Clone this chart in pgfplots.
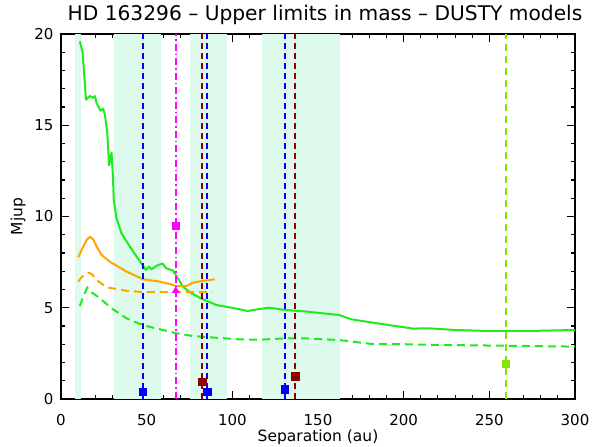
\documentclass[border=0pt]{standalone}
\usepackage{fontspec}
\setmainfont{DejaVu Sans}
\usepackage{pgfplots}
\pgfplotsset{compat=1.18}
\definecolor{cgreen}{RGB}{30,235,30}
\definecolor{cygreen}{RGB}{130,230,0}
\definecolor{cmaroon}{RGB}{139,0,0}
\definecolor{cblue}{RGB}{0,0,255}
\definecolor{cmag}{RGB}{255,0,255}
\definecolor{corange}{RGB}{255,165,0}
\definecolor{band}{RGB}{222,250,236}
\begin{document}
\begin{tikzpicture}
\begin{axis}[
 at={(0,0)}, anchor=south west,
 width=514pt, height=365pt, scale only axis,
 xmin=0, xmax=300, ymin=0, ymax=20,
 xtick={0,50,...,300}, ytick={0,5,...,20},
 minor x tick num=4, minor y tick num=4,
 tick align=inside,
 major tick length=8pt, minor tick length=4pt,
 axis line style={line width=1.4pt},
 every tick/.style={black, line width=1.1pt},
 /pgf/number format/assume math mode=true,
 ticklabel style={font=\fontsize{15}{18}\selectfont},
 xticklabel style={anchor=center, yshift=-21pt},
 yticklabel style={anchor=east, xshift=-4pt},
 title={HD 163296 -- Upper limits in mass -- DUSTY models},
 title style={at={(axis description cs:0.5,1)}, anchor=base, yshift=7pt, xshift=7pt, font=\fontsize{20.2}{23}\selectfont},
 xlabel={Separation (au)},
 xlabel style={at={(axis description cs:0.5,0)}, anchor=center, yshift=-38pt, font=\fontsize{15.5}{18}\selectfont},
 ylabel={Mjup},
 ylabel style={at={(axis description cs:-0.0837,0.5)}, anchor=center, font=\fontsize{15.5}{18}\selectfont},
 clip=true,
]
% shaded bands
\addplot[fill=band, draw=none] coordinates {(8.2,20)(11.5,20)} \closedcycle;
\addplot[fill=band, draw=none] coordinates {(31,20)(58.2,20)} \closedcycle;
\addplot[fill=band, draw=none] coordinates {(75.1,20)(97.1,20)} \closedcycle;
\addplot[fill=band, draw=none] coordinates {(117.2,20)(163,20)} \closedcycle;
% green solid
\addplot[cgreen, line width=2pt, line join=round] coordinates {
(11,19.6) (12.6,19.0) (14.6,16.4) (16.9,16.6) (18.8,16.5) (19.8,16.6) (20.8,16.2) (23.1,15.8) (24.6,15.9) (25.6,15.6) (27,14.6) (28.1,12.8) (29.5,13.5) (30.3,12.2) (30.8,10.9) (32.4,9.9) (35.3,9.08) (40.2,8.35) (44.1,7.8) (47.6,7.34) (49.5,7.07) (51.4,7.25) (52.8,7.1) (55.7,7.29) (59.2,7.43) (61.5,7.16) (65.4,7.03) (68.3,6.61) (71.2,6.15) (76.1,5.79) (82.9,5.46) (90.7,5.15) (98.4,5.02) (104.2,4.92) (109,4.82) (115,4.92) (121.7,5.0) (130.5,4.88) (143.1,4.79) (162.5,4.6) (169.3,4.37) (178,4.24) (191.6,4.05) (205.2,3.86) (214.9,3.87) (230.5,3.78) (247.9,3.73) (275,3.73) (298.4,3.78) (300,3.78)};
% green dashed
\addplot[cgreen, line width=2pt, dash pattern=on 8pt off 5pt] coordinates {
(11,5.1) (13,5.6) (15.3,6.1) (17.3,5.88) (22.7,5.52) (29.5,4.97) (38.3,4.42) (47.6,4.05) (57.7,3.82) (67.4,3.6) (77,3.45) (86.8,3.38) (96.5,3.32) (104.2,3.27) (116,3.25) (130.5,3.32) (143,3.32) (162.5,3.23) (181.9,3.01) (201.3,3.0) (220.7,2.96) (259.6,2.92) (300,2.87)};
% orange solid
\addplot[corange, line width=2pt, line join=round] coordinates {
(10.1,7.76) (12,8.16) (14.9,8.71) (16.9,8.89) (18.8,8.75) (20.8,8.35) (23.7,7.89) (28.5,7.52) (38.3,6.98) (47.9,6.56) (57.7,6.43) (63.5,6.3) (67.4,6.19) (73.2,6.19) (77,6.37) (82.9,6.48) (86,6.5) (89.7,6.56)};
% orange dashed
\addplot[corange, line width=2pt, dash pattern=on 8pt off 5pt] coordinates {
(10.1,6.43) (12,6.67) (15.9,6.92) (17.9,6.85) (20.8,6.52) (26.6,6.12) (38.3,5.93) (47.9,5.86) (57.7,5.85) (67.4,5.88) (77,5.86) (88.3,5.85)};
% vertical lines
\addplot[cblue, line width=2pt, dash pattern=on 6pt off 4pt] coordinates {(47.6,0)(47.6,20)};
\addplot[cmag, line width=2pt, dash pattern=on 7pt off 3pt on 1.5pt off 3pt] coordinates {(67,0)(67,20)};
\addplot[cmaroon, line width=2pt, dash pattern=on 6pt off 4pt] coordinates {(82.5,0)(82.5,20)};
\addplot[cblue, line width=2pt, dash pattern=on 6pt off 4pt] coordinates {(85.4,0)(85.4,20)};
\addplot[cblue, line width=2pt, dash pattern=on 6pt off 4pt] coordinates {(130.5,0)(130.5,20)};
\addplot[cmaroon, line width=2pt, dash pattern=on 6pt off 4pt] coordinates {(136.7,0)(136.7,20)};
\addplot[cygreen, line width=2pt, dash pattern=on 7pt off 5pt] coordinates {(259.6,0)(259.6,20)};
% markers
\addplot[only marks, mark=square*, mark size=3.7pt, cblue] coordinates {(47.6,0.4)(85.4,0.4)(130.5,0.53)};
\addplot[only marks, mark=square*, mark size=3.7pt, cmaroon] coordinates {(82.5,0.95)(136.7,1.26)};
\addplot[only marks, mark=square*, mark size=3.7pt, cmag] coordinates {(67,9.48)};
\addplot[only marks, mark=triangle*, mark size=4pt, cmag] coordinates {(67,5.93)};
\addplot[only marks, mark=square*, mark size=3.7pt, cygreen] coordinates {(259.6,1.95)};
\end{axis}
\pgfresetboundingbox
\useasboundingbox (-61pt,-48pt) rectangle (537pt,399pt);
\end{tikzpicture}
\end{document}
